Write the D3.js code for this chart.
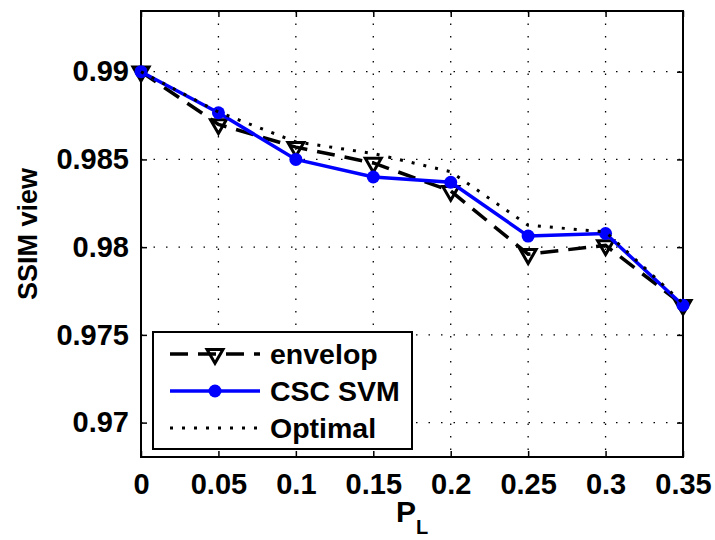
<!DOCTYPE html>
<html>
<head>
<meta charset="utf-8">
<script src="https://cdn.jsdelivr.net/npm/d3@7"></script>
<style>
  body{margin:0;background:#fff;}
  text{font-family:"Liberation Sans",Arial,sans-serif;}
</style>
</head>
<body>
<script>
const w = 715;
const h = 540;
const mg = {l:141, r:32, t:11, b:83};

// data
const pl = [0, 0.05, 0.1, 0.15, 0.2, 0.25, 0.3, 0.35];
const envelop = [0.99, 0.9870, 0.9857, 0.9848, 0.9832, 0.9796, 0.9801, 0.9767];
const cscsvm = [0.99, 0.98766, 0.9850, 0.9840, 0.9837, 0.98063, 0.98078, 0.97669];
const optimal = [0.99, 0.9877, 0.9860, 0.98534, 0.9843, 0.98125, 0.98087, 0.9768];
const xticks = [0, 0.05, 0.1, 0.15, 0.2, 0.25, 0.3, 0.35];
const xticklabels = ['0', '0.05', '0.1', '0.15', '0.2', '0.25', '0.3', '0.35'];
const yticks = [0.97, 0.975, 0.98, 0.985, 0.99];
const yticklabels = ['0.97', '0.975', '0.98', '0.985', '0.99'];
const legendnames = ['envelop', 'CSC SVM', 'Optimal'];

const x = d3.scaleLinear().domain([0, 0.35]).range([mg.l, w-mg.r]);
const y = d3.scaleLinear().domain([0.96804, 0.99346]).range([h-mg.b, mg.t]);

svg = d3.select('body').append('svg')
  .attr('width', w)
  .attr('height', h)
  .style('background-color', '#fff')

//grid
svg.append('g').selectAll('line')
  .data(xticks.slice(1, -1))
  .enter().append('line')
  .attr('x1', d=>x(d)).attr('x2', d=>x(d))
  .attr('y1', mg.t).attr('y2', h-mg.b)
  .style('stroke', '#000').style('stroke-width', 1.3)
  .style('stroke-dasharray', '1.5,11')
svg.append('g').selectAll('line')
  .data(yticks)
  .enter().append('line')
  .attr('y1', d=>y(d)).attr('y2', d=>y(d))
  .attr('x1', mg.l).attr('x2', w-mg.r)
  .style('stroke', '#000').style('stroke-width', 1.3)
  .style('stroke-dasharray', '1.5,11')

//axes (matlab style, ticks inside on all sides)
const xb = d3.axisBottom(x).tickValues(xticks).tickSize(-6).tickPadding(16)
  .tickFormat((d,i)=>xticklabels[i]);
const xt = d3.axisTop(x).tickValues(xticks).tickSize(-6).tickFormat('');
const yl = d3.axisLeft(y).tickValues(yticks).tickSize(-6).tickPadding(12)
  .tickFormat((d,i)=>yticklabels[i]);
const yr = d3.axisRight(y).tickValues(yticks).tickSize(-6).tickFormat('');

function styleAxis(g){
  g.select('.domain').remove();
  g.selectAll('.tick line').style('stroke', '#000').style('stroke-width', 1.5);
  g.selectAll('text').style('font-size', '29px').style('font-weight', 'bold').style('fill', '#000');
}
svg.append('g').attr('transform', 'translate(0,'+(h-mg.b)+')').call(xb).call(styleAxis)
svg.append('g').attr('transform', 'translate(0,'+mg.t+')').call(xt).call(styleAxis)
svg.append('g').attr('transform', 'translate('+mg.l+',0)').call(yl).call(styleAxis)
svg.append('g').attr('transform', 'translate('+(w-mg.r)+',0)').call(yr).call(styleAxis)

svg.append('rect')
  .attr('x', mg.l).attr('y', mg.t)
  .attr('width', w-mg.l-mg.r).attr('height', h-mg.t-mg.b)
  .style('fill', 'none').style('stroke', '#000').style('stroke-width', 2)

//lines
const line = d3.line().x((d,i)=>x(pl[i])).y(d=>y(d));
const tri = d3.symbol().type(d3.symbolTriangle).size(110);

svg.append('path').datum(envelop)
  .attr('d', line)
  .style('fill', 'none').style('stroke', '#000').style('stroke-width', 3.5)
  .style('stroke-dasharray', '18,10')
svg.append('g').selectAll('path')
  .data(envelop).enter().append('path')
  .attr('d', tri)
  .attr('transform', (d,i)=>'translate('+x(pl[i])+','+y(d)+') rotate(180)')
  .style('fill', 'none').style('stroke', '#000').style('stroke-width', 3)

svg.append('path').datum(cscsvm)
  .attr('d', line)
  .style('fill', 'none').style('stroke', '#0000ff').style('stroke-width', 3.5)
svg.append('g').selectAll('circle')
  .data(cscsvm).enter().append('circle')
  .attr('cx', (d,i)=>x(pl[i])).attr('cy', d=>y(d)).attr('r', 6.5)
  .style('fill', '#0000ff')

svg.append('path').datum(optimal)
  .attr('d', line)
  .style('fill', 'none').style('stroke', '#000').style('stroke-width', 3)
  .style('stroke-dasharray', '3,9')

//legend
legend = svg.append('g').attr('id', 'legend')
legend.append('rect')
  .attr('x', 153).attr('y', 332).attr('width', 259).attr('height', 117)
  .style('fill', '#fff').style('stroke', '#000').style('stroke-width', 2)
const ly = [354, 391, 428];
const dashes = ['18,10', null, '3,9'];
legend.selectAll('line')
  .data(legendnames).enter().append('line')
  .attr('x1', 170).attr('x2', 260)
  .attr('y1', (d,i)=>ly[i]).attr('y2', (d,i)=>ly[i])
  .style('stroke', (d,i)=>i==1?'#0000ff':'#000')
  .style('stroke-width', (d,i)=>i==2?3:3.5)
  .style('stroke-dasharray', (d,i)=>dashes[i])
legend.append('path')
  .attr('d', tri)
  .attr('transform', 'translate(215,'+ly[0]+') rotate(180)')
  .style('fill', 'none').style('stroke', '#000').style('stroke-width', 3)
legend.append('circle')
  .attr('cx', 215).attr('cy', ly[1]).attr('r', 6.5).style('fill', '#0000ff')
legend.selectAll('text')
  .data(legendnames).enter().append('text')
  .attr('x', 270).attr('y', (d,i)=>ly[i]+10)
  .style('font-size', '28.5px').style('font-weight', 'bold')
  .text(d=>d)

//axis labels
svg.append('text')
  .attr('transform', 'translate(37,'+((mg.t+h-mg.b)/2)+') rotate(-90)')
  .attr('text-anchor', 'middle')
  .style('font-size', '27px').style('font-weight', 'bold')
  .text('SSIM view')
xl = svg.append('text')
  .attr('x', 396).attr('y', 522)
  .style('font-size', '30px').style('font-weight', 'bold')
xl.append('tspan').text('P')
xl.append('tspan').attr('dy', 12).style('font-size', '20px').text('L')
</script>
</body>
</html>
